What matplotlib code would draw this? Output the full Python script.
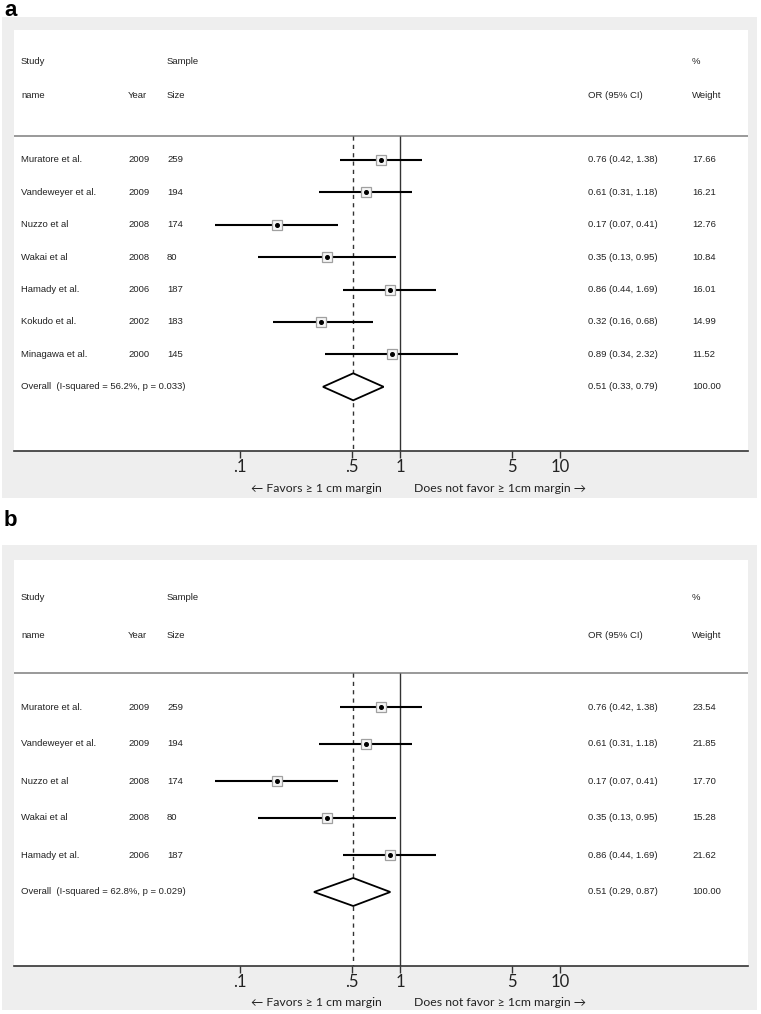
import numpy as np
import matplotlib
matplotlib.use('Agg')
import matplotlib.pyplot as plt
from matplotlib.patches import Rectangle, Polygon
from matplotlib.transforms import blended_transform_factory

# panel a data
names_a = ['Muratore et al.', 'Vandeweyer et al.', 'Nuzzo et al', 'Wakai et al',
           'Hamady et al.', 'Kokudo et al.', 'Minagawa et al.']
years_a = [2009, 2009, 2008, 2008, 2006, 2002, 2000]
sizes_a = [259, 194, 174, 80, 187, 183, 145]
or_a = [0.76, 0.61, 0.17, 0.35, 0.86, 0.32, 0.89]
lo_a = [0.42, 0.31, 0.07, 0.13, 0.44, 0.16, 0.34]
hi_a = [1.38, 1.18, 0.41, 0.95, 1.69, 0.68, 2.32]
wt_a = [17.66, 16.21, 12.76, 10.84, 16.01, 14.99, 11.52]
overall_a = (0.51, 0.33, 0.79)
overall_lbl_a = 'Overall  (I-squared = 56.2%, p = 0.033)'

# panel b data
names_b = names_a[:5]
years_b = years_a[:5]
sizes_b = sizes_a[:5]
or_b = or_a[:5]
lo_b = lo_a[:5]
hi_b = hi_a[:5]
wt_b = [23.54, 21.85, 17.70, 15.28, 21.62]
overall_b = (0.51, 0.29, 0.87)
overall_lbl_b = 'Overall  (I-squared = 62.8%, p = 0.029)'

tick_vals = [0.1, 0.5, 1, 5, 10]
tick_lbls = ['.1', '.5', '1', '5', '10']

W, H = 761, 1014
fig = plt.figure(figsize=(W / 100, H / 100), dpi=100)
fig.patch.set_facecolor('white')

TXT = dict(family=['Liberation Sans', 'DejaVu Sans'], fontsize=6.8, color='#222222')
CAL = ['Lato', 'DejaVu Sans']

# x positions in pixels
X_L, X_R = 14, 748
X_ONE, DEC = 400, 160


def fx(px):
    return px / W


def fy(py):
    return 1 - py / H


def panel(letter, letter_y, grey_top, grey_bot, white_top, axis_y, head1, head2, sep_y,
          row0, step, names, years, sizes, ors, los, his, wts, overall, overall_lbl, dia_h):
    fig.text(fx(4), fy(letter_y), letter, fontsize=16, fontweight='bold',
             family=['Liberation Sans', 'DejaVu Sans'], va='baseline', ha='left')
    fig.patches.append(Rectangle((fx(2), fy(grey_bot)), fx(755), (grey_bot - grey_top) / H,
                                 transform=fig.transFigure, facecolor='#eeeeee',
                                 edgecolor='none', zorder=-5))
    ax = fig.add_axes([fx(X_L), fy(axis_y), fx(X_R - X_L), (axis_y - white_top) / H])
    ax.set_facecolor('white')
    ax.set_xscale('log')
    ax.set_xlim(10 ** ((X_L - X_ONE) / DEC), 10 ** ((X_R - X_ONE) / DEC))
    ax.set_ylim(axis_y, white_top)
    for s in ['top', 'left', 'right']:
        ax.spines[s].set_visible(False)
    ax.spines['bottom'].set_color('#333333')
    ax.spines['bottom'].set_linewidth(1.2)
    ax.set_yticks([])
    ax.set_xticks(tick_vals)
    ax.set_xticklabels(tick_lbls)
    ax.xaxis.set_minor_locator(matplotlib.ticker.NullLocator())
    ax.tick_params(axis='x', direction='out', length=5, width=1, color='#333333',
                   labelsize=12, pad=1, labelcolor='#222222')
    for t in ax.get_xticklabels():
        t.set_family(CAL)

    tr = blended_transform_factory(fig.transFigure, ax.transData)
    # header
    fig.text(fx(21), fy(head1), 'Study', va='center', **TXT)
    fig.text(fx(167), fy(head1), 'Sample', va='center', **TXT)
    fig.text(fx(692), fy(head1), '%', va='center', **TXT)
    fig.text(fx(21), fy(head2), 'name', va='center', **TXT)
    fig.text(fx(128), fy(head2), 'Year', va='center', **TXT)
    fig.text(fx(167), fy(head2), 'Size', va='center', **TXT)
    fig.text(fx(588), fy(head2), 'OR (95% CI)', va='center', **TXT)
    fig.text(fx(692), fy(head2), 'Weight', va='center', **TXT)
    ax.axhline(sep_y, color='#999999', lw=1.4)

    ys = row0 + step * np.arange(len(names) + 1)
    ax.vlines(1, sep_y, axis_y, color='#333333', lw=1)
    ax.vlines(overall[0], sep_y, axis_y, color='#333333', lw=1, linestyles=(0, (3, 3)))

    for i in range(len(names)):
        y = ys[i]
        ax.hlines(y, los[i], his[i], color='black', lw=1.5, zorder=3)
        ax.plot(ors[i], y, marker='s', ms=6.5, mfc='#f6f6f6', mec='#a0a0a0', mew=0.9, zorder=4)
        ax.plot(ors[i], y, marker='o', ms=2.6, color='black', zorder=5)
        ax.text(fx(21), y, names[i], transform=tr, va='center', **TXT)
        ax.text(fx(128), y, str(years[i]), transform=tr, va='center', **TXT)
        ax.text(fx(167), y, str(sizes[i]), transform=tr, va='center', **TXT)
        ax.text(fx(588), y, '%.2f (%.2f, %.2f)' % (ors[i], los[i], his[i]),
                transform=tr, va='center', **TXT)
        ax.text(fx(692), y, '%.2f' % wts[i], transform=tr, va='center', **TXT)

    y = ys[-1]
    o, l, h = overall
    ax.add_patch(Polygon([(l, y), (o, y - dia_h), (h, y), (o, y + dia_h)], closed=True,
                         facecolor='white', edgecolor='black', lw=1.3, zorder=4))
    ax.text(fx(21), y, overall_lbl, transform=tr, va='center', **TXT)
    ax.text(fx(588), y, '%.2f (%.2f, %.2f)' % (o, l, h), transform=tr, va='center', **TXT)
    ax.text(fx(692), y, '100.00', transform=tr, va='center', **TXT)

    fig.text(fx(316), fy(axis_y + 37), '\u2190 Favors \u2265 1 cm margin', ha='center',
             va='center', fontsize=8.8, family=CAL, color='#222222')
    fig.text(fx(500), fy(axis_y + 37), 'Does not favor \u2265 1cm margin \u2192', ha='center',
             va='center', fontsize=8.8, family=CAL, color='#222222')


panel('a', 15.5, 17, 498, 30, 451, 62, 96, 136, 160, 32.4,
      names_a, years_a, sizes_a, or_a, lo_a, hi_a, wt_a, overall_a, overall_lbl_a, 13.5)
panel('b', 526, 545, 1010, 560, 966, 598, 635, 673, 707, 37.0,
      names_b, years_b, sizes_b, or_b, lo_b, hi_b, wt_b, overall_b, overall_lbl_b, 14)

fig.savefig('out.png', dpi=100)
